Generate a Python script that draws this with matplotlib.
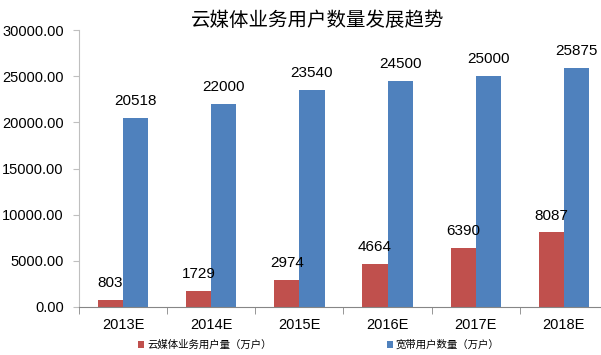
import matplotlib
matplotlib.use("Agg")
import matplotlib.pyplot as plt
import numpy as np

plt.rcParams['font.family'] = ['Liberation Sans', 'Noto Sans CJK SC', 'DejaVu Sans']

categories = ["2013E", "2014E", "2015E", "2016E", "2017E", "2018E"]
cloud_users = [803, 1729, 2974, 4664, 6390, 8087]
broadband_users = [20518, 22000, 23540, 24500, 25000, 25875]
series_names = ["云媒体业务用户量（万户）", "宽带用户数量（万户）"]
title = "云媒体业务用户数量发展趋势"

red = "#C0504D"
blue = "#4F81BD"

fig = plt.figure(figsize=(6.01, 3.55), dpi=100)
ax = fig.add_axes([79/601, 1 - 307/355, 529/601, 277/355])

x = np.arange(len(categories))
w = 0.285
b1 = ax.bar(x - w/2, cloud_users, w, color=red, label=series_names[0])
b2 = ax.bar(x + w/2, broadband_users, w, color=blue, label=series_names[1])

for rect, v in zip(b1, cloud_users):
    ax.annotate(str(v), (rect.get_x() + rect.get_width()/2, v), xytext=(0, 7),
                textcoords="offset points", ha="center", va="bottom", fontsize=11)
for rect, v in zip(b2, broadband_users):
    ax.annotate(str(v), (rect.get_x() + rect.get_width()/2, v), xytext=(0, 7),
                textcoords="offset points", ha="center", va="bottom", fontsize=11)

ax.set_xlim(-0.5, len(categories) - 0.5)
ax.set_ylim(0, 30000)
ax.set_yticks(np.arange(0, 30001, 5000))
ax.set_yticklabels([f"{v:.2f}" for v in np.arange(0, 30001, 5000)], fontsize=10.5)
ax.set_xticks(x)
ax.set_xticklabels(categories, fontsize=10.5)
ax.set_xticks(np.arange(-0.5, len(categories)), minor=True)
ax.tick_params(axis="x", which="major", length=0, pad=8)
ax.tick_params(axis="x", which="minor", length=5, color="#868686", direction="out")
ax.tick_params(axis="y", length=4, color="#BFBFBF", pad=7)

for s in ["top", "right"]:
    ax.spines[s].set_visible(False)
ax.spines["left"].set_color("#BFBFBF")
ax.spines["bottom"].set_color("#868686")

fig.text(318/601, 1 - 20/355, title, ha="center", va="center", fontsize=14,
         family=['Noto Sans CJK SC', 'DejaVu Sans'])

fig.legend(handles=[b1, b2], loc="center", bbox_to_anchor=(319/601, 1 - 345/355),
           ncol=2, frameon=False, fontsize=7.5, handlelength=0.6, handleheight=0.6,
           columnspacing=11, handletextpad=0.3,
           prop={'family': ['Noto Sans CJK SC', 'DejaVu Sans'], 'size': 7.5})

fig.savefig("out.png", dpi=100)
